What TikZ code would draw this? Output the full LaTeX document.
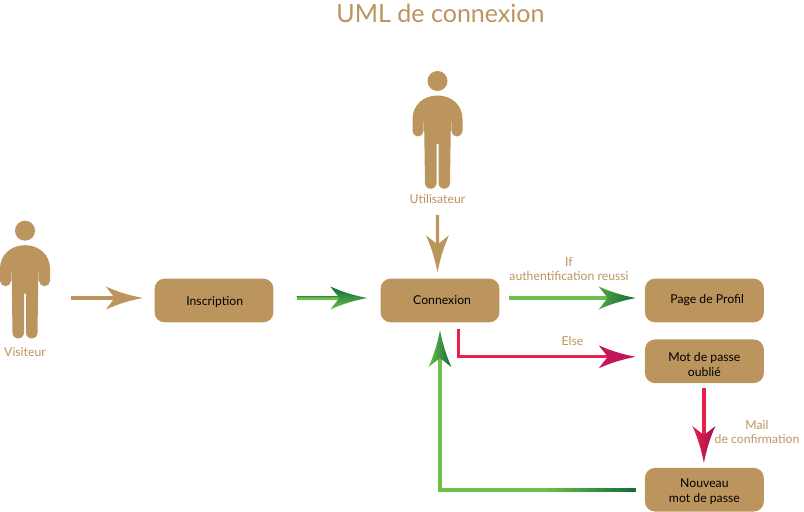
\documentclass[tikz,border=0pt]{standalone}
\usepackage{fontspec}
\setmainfont{Lato}
\usetikzlibrary{calc}

\definecolor{tan}{HTML}{BC945E}
\definecolor{lightgreen}{HTML}{6CBF4B}
\definecolor{darkgreen}{HTML}{126A38}
\definecolor{crimson}{HTML}{EA1F4E}
\definecolor{plum}{HTML}{C2185B}

\tikzset{
  box/.style={draw=none,fill=tan,rounded corners=0.25cm,minimum width=2.97cm,minimum height=1.09cm,
    inner sep=0pt,align=center,font=\fontsize{8.7}{10}\selectfont,text=black},
  actor/.style={minimum width=1.25cm,minimum height=2.7cm,inner sep=0pt},
  caption/.style={text=tan,align=center,inner sep=0pt,font=\fontsize{8.7}{10}\selectfont},
  flow/.style={line width=2.4pt,shorten >=20pt},
  pics/headtip/.style={code={
    \path[#1] (0,0) .. controls (-13,-2.5) and (-25,-6) .. (-37,-11.5) -- (-28,0)
      -- (-37,11.5) .. controls (-25,6) and (-13,2.5) .. (0,0) -- cycle;
  }},
  pics/person/.style={code={
    \fill[tan] (0,0) circle (10);
    \fill[tan] (0,14.5) .. controls (14,14.5) and (25,24) .. (25,38) -- (25,50)
      arc[start angle=0,end angle=180,radius=5.5] -- (13.5,33) -- (12.5,102)
      arc[start angle=0,end angle=180,radius=5.75] -- (1,63) -- (-1,63) -- (-1,102)
      arc[start angle=0,end angle=180,radius=5.75] -- (-13.5,33) -- (-14,50)
      arc[start angle=0,end angle=180,radius=5.5] -- (-25,38)
      .. controls (-25,24) and (-14,14.5) .. (0,14.5) -- cycle;
  }}
}

\begin{document}
\begin{tikzpicture}[x=0.025cm,y=-0.025cm]
\useasboundingbox (0,0) rectangle (804,512);

\node[text=tan,inner sep=0pt,font=\fontsize{17.8}{20}\selectfont] (title) at (440.5,13) {UML de connexion};

% Actors
\node[actor] (visiteur) at (25,285) {};
\pic at (25,230.7) {person};
\node[caption] (visiteurlabel) at (25,352) {Visiteur};
\node[actor] (utilisateur) at (437.5,135) {};
\pic at (437.5,81) {person};
\node[caption] (utilisateurlabel) at (437.5,199) {Utilisateur};

% Boxes
\node[box] (inscription) at (214,300.5) {\rule{0pt}{9pt}\hspace{1pt}Inscription};
\node[box] (connexion) at (440,300.5) {\hspace{3pt}Connexion};
\node[box] (profil) at (704.4,300.5) {\hspace{4pt}Page de Profil};
\node[box] (oublie) at (704.4,361.3) {\rule{0pt}{11pt}Mot de passe\\oublié};
\node[box] (nouveau) at (704.4,489.7) {\rule{0pt}{9pt}Nouveau\\mot de passe};

% Arrow ends
\coordinate (tipa) at ($(inscription.west)+(-11.5,-2.5)$);
\coordinate (tipb) at ($(connexion.west)+(-13,-2.5)$);
\coordinate (tipc) at ($(profil.west)+(-9,-2.5)$);
\coordinate (tipd) at ($(oublie.west)+(-9,-4.5)$);
\coordinate (tipe) at ($(nouveau.north)+(-0.5,-4.5)$);
\coordinate (tipf) at ($(connexion.south)+(0,7.5)$);
\coordinate (tipg) at ($(connexion.north)+(-2.5,-6)$);

% Tan arrows
\draw[flow,tan] ($(visiteur.east)+(21,13)$) -- (tipa);
\pic at (tipa) {headtip={fill=tan}};
\draw[flow,tan] (utilisateur.south |- 0,215) -- (tipg);
\pic[rotate=-90] at (tipg) {headtip={fill=tan}};

% Green arrows
\draw[flow,lightgreen] ($(inscription.east)+(23,-2.5)$) -- (tipb);
\draw[line width=0.6pt,darkgreen,shorten >=20pt] ($(inscription.east)+(23,-3.8)$) -- ($(tipb)+(0,-1.3)$);
\pic at (tipb) {headtip={top color=darkgreen,bottom color=lightgreen}};
\draw[flow,lightgreen] ($(connexion.east)+(9,-2.5)$) -- (tipc);
\pic at (tipc) {headtip={left color=lightgreen!70!darkgreen,right color=darkgreen}};
\draw[flow,lightgreen] ($(nouveau.west)+(-9,0.3)$) -| (tipf);
\shade[left color=lightgreen,right color=darkgreen] ($(nouveau.west)+(-100,-1.4)$) rectangle ($(nouveau.west)+(-9,2)$);
\pic[rotate=90] at (tipf) {headtip={left color=lightgreen,middle color=lightgreen!50!darkgreen,right color=darkgreen}};

% Red arrows
\draw[flow,crimson] ($(connexion.south)+(18.5,6)$) |- (tipd);
\pic at (tipd) {headtip={fill=plum}};
\draw[flow,crimson] ($(oublie.south)+(-0.5,4.5)$) -- (tipe);
\pic[rotate=-90] at (tipe) {headtip={left color=crimson,right color=plum!80!black}};

% Arrow labels
\node[caption] (iflabel) at (569,269.5) {If\\authentification reussi};
\node[caption] (elselabel) at (572.5,341) {Else};
\node[caption] (maillabel) at (757,432) {Mail\\de confirmation};

\end{tikzpicture}
\end{document}
